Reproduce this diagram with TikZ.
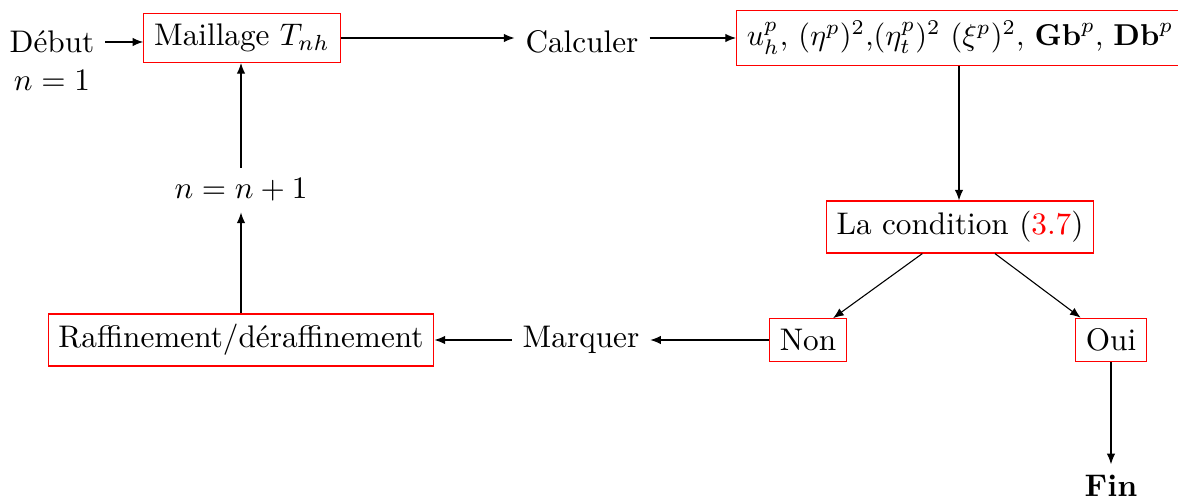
\documentclass[tikz,border=0pt]{standalone}
\usetikzlibrary{arrows.meta,calc}
\begin{document}
\begin{tikzpicture}[x=0.32pt,y=-0.32pt,
  box/.style={draw=red, line width=0.35pt, inner sep=3.33pt},
  plain/.style={inner sep=3.33pt},
  arr/.style={-{Latex[length=3.4pt,width=2.7pt]}, line width=0.35pt}]
\clip (0,0) rectangle (1178,503);
\useasboundingbox (0,0) rectangle (1178,503);
\node[plain] (debut) at (52,42) {Début};
\node[plain] (n1) at (52,80) {$n=1$};
\node[box] (maill) at (242,38) {Maillage $T_{nh}$};
\node[plain] (calc) at (582,42) {Calculer};
\node[box, anchor=west] (vals) at (736,38) {\scalebox{0.965}{$u_h^p$, $(\eta^p)^2$,$(\eta_t^p)^2$ $(\xi^p)^2$, $\mathbf{Gb}^p$, $\mathbf{Db}^p$}};
\node[box] (cond) at (960,227) {La condition ({\color{red}3.7})};
\node[box] (non) at (808,340) {Non};
\node[box] (oui) at (1111,340) {Oui};
\node[plain] (fin) at (1111,486) {\textbf{Fin}};
\node[plain] (marq) at (581,340) {Marquer};
\node[box] (raff) at (241,340) {Raffinement/déraffinement};
\node[plain] (incr) at (241,190) {$n=n+1$};
\coordinate (vs) at (959,0);
\draw[arr] (debut.east) -- (maill.west |- debut.east);
\draw[arr] (maill.east) -- (calc.west |- maill.east);
\draw[arr] (calc.east |- vals.west) -- (vals.west);
\draw[arr] (vs |- vals.south) -- (vs |- cond.north);
\draw[arr] ($(cond.south west)!0.36!(cond.south east)$) -- ($(non.north west)!0.82!(non.north east)$);
\draw[arr] ($(cond.south west)!0.63!(cond.south east)$) -- ($(oui.north west)!0.08!(oui.north east)$);
\draw[arr] (oui.south) -- (fin.north);
\draw[arr] (non.west) -- (marq.east);
\draw[arr] (marq.west) -- (raff.east);
\draw[arr] (raff.north) -- (incr.south);
\draw[arr] (incr.north) -- (incr.north |- maill.south);
\end{tikzpicture}
\end{document}
